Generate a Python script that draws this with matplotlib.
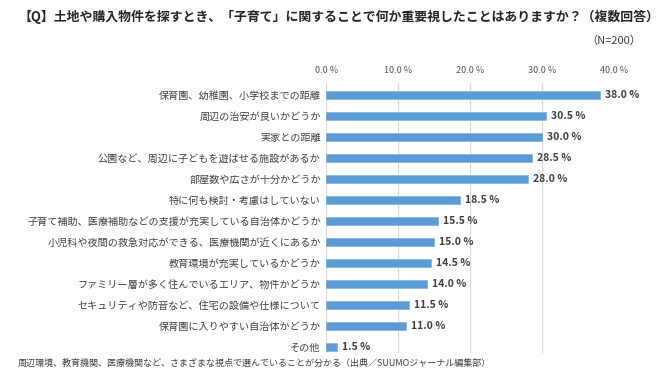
import matplotlib
matplotlib.use("Agg")
import matplotlib.pyplot as plt

plt.rcParams['font.family'] = ['Noto Sans CJK JP', 'DejaVu Sans']

# Data
labels = [
    "保育園、幼稚園、小学校までの距離",
    "周辺の治安が良いかどうか",
    "実家との距離",
    "公園など、周辺に子どもを遊ばせる施設があるか",
    "部屋数や広さが十分かどうか",
    "特に何も検討・考慮はしていない",
    "子育て補助、医療補助などの支援が充実している自治体かどうか",
    "小児科や夜間の救急対応ができる、医療機関が近くにあるか",
    "教育環境が充実しているかどうか",
    "ファミリー層が多く住んでいるエリア、物件かどうか",
    "セキュリティや防音など、住宅の設備や仕様について",
    "保育園に入りやすい自治体かどうか",
    "その他",
]
values = [38.0, 30.5, 30.0, 28.5, 28.0, 18.5, 15.5, 15.0, 14.5, 14.0, 11.5, 11.0, 1.5]
xticks = [0, 10, 20, 30, 40]

fig = plt.figure(figsize=(6.7, 3.8), dpi=100)
ax = fig.add_axes([0.487, 0.071, 0.43, 0.7105])

ypos = list(range(len(labels)))
ax.barh(ypos, values, height=0.36, color="#5B9BD5", edgecolor="#7FB2E0", linewidth=0.5, zorder=3)

for y, v in zip(ypos, values):
    ax.text(v + 0.7, y, f"{v:.1f} %", va="center", ha="left", fontsize=7.5,
            fontweight="bold", color="#404040", clip_on=False)

ax.set_ylim(12.3, -0.56)
ax.set_xlim(0, 40)
ax.set_yticks(ypos)
ax.set_yticklabels(labels, fontsize=7.25, color="#404040")
ax.set_xticks(xticks)
ax.set_xticklabels([f"{t:.1f} %" for t in xticks], fontsize=6.5, color="#595959")
ax.xaxis.tick_top()
ax.tick_params(axis="both", length=0)
ax.tick_params(axis="x", pad=6)
ax.tick_params(axis="y", pad=4)
ax.grid(axis="x", color="#D9D9D9", linewidth=0.8, zorder=0)
for s in ax.spines.values():
    s.set_visible(False)

fig.text(0.027, 0.955, "【Q】土地や購入物件を探すとき、「子育て」に関することで何か重要視したことはありますか？（複数回答）",
         fontsize=9.3, fontweight="bold", color="#262626", va="center", ha="left")
fig.text(0.957, 0.893, "（N=200）", fontsize=8, color="#404040", va="center", ha="right")
fig.text(0.027, 0.043, "周辺環境、教育機関、医療機関など、さまざまな視点で選んでいることが分かる（出典／SUUMOジャーナル編集部）",
         fontsize=6.5, color="#404040", va="center", ha="left")

fig.savefig("out.png", dpi=100)
